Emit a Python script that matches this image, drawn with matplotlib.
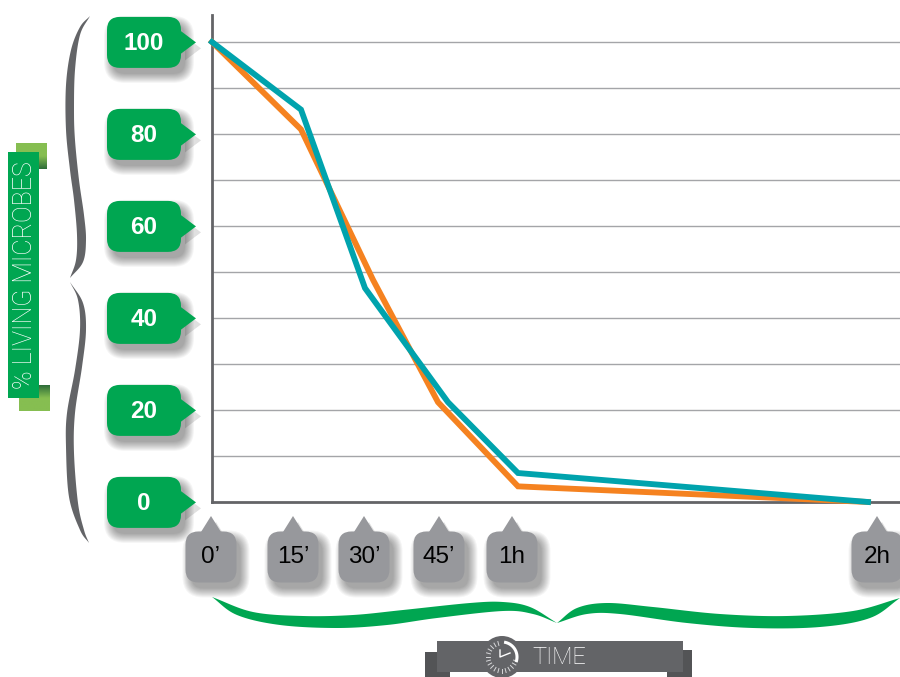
import numpy as np
import matplotlib
matplotlib.use('Agg')
import matplotlib.pyplot as plt
from matplotlib.patches import FancyBboxPatch, Polygon, Rectangle, Circle
from matplotlib.colors import LinearSegmentedColormap

plt.rcParams['font.family'] = ['Liberation Sans', 'DejaVu Sans']

W, H = 900, 677
GREEN = '#00A651'
GREY = '#97989C'
DARK = '#636467'
TEAL = '#00A3AD'
ORANGE = '#F58220'

y_labels = ['100', '80', '60', '40', '20', '0']
y_ticks = [100, 80, 60, 40, 20, 0]
grid_vals = [90, 70, 50, 30, 10]
x_labels = ["0\u2019", "15\u2019", "30\u2019", "45\u2019", "1h", "2h"]
teal_x = [0, 89, 153, 236, 306, 656]
teal_y = [100, 85.3, 46.5, 21.7, 6.3, 0]
orange_x = [0, 89, 161, 226, 306, 656]
orange_y = [100, 81, 48.3, 21.7, 3.4, 0]

fig = plt.figure(figsize=(W / 100, H / 100), dpi=100)
bg = fig.add_axes([0, 0, 1, 1])
bg.set_xlim(0, W)
bg.set_ylim(H, 0)
bg.axis('off')


def smooth(pts, n=14):
    p = np.array(pts, float)
    q = np.vstack([2 * p[0] - p[1], p, 2 * p[-1] - p[-2]])
    out = []
    for i in range(1, len(q) - 2):
        for t in np.linspace(0, 1, n, endpoint=False):
            out.append(0.5 * (2 * q[i] + (q[i + 1] - q[i - 1]) * t
                              + (2 * q[i - 1] - 5 * q[i] + 4 * q[i + 1] - q[i + 2]) * t ** 2
                              + (3 * q[i] - q[i - 1] - 3 * q[i + 1] + q[i + 2]) * t ** 3))
    out.append(p[-1])
    return np.array(out)


def brace(edge_a, edge_b, color):
    a = smooth(edge_a)
    b = smooth(edge_b)
    bg.add_patch(Polygon(np.vstack([a, b[::-1]]), closed=True, fc=color, ec='none', zorder=2))


def bubble(cx, cy, w, h, r, tip, color, z=3):
    def rect(grow, alpha, fc, dx, dy, zz):
        bg.add_patch(FancyBboxPatch((cx - w / 2 + r + dx, cy - h / 2 + r + dy),
                                    w - 2 * r, h - 2 * r,
                                    boxstyle=f'round,pad={r + grow},rounding_size={r + grow}',
                                    fc=fc, ec='none', alpha=alpha, zorder=zz))
    for i in range(10, 0, -1):
        rect(i * 1.0 - 2, 0.04, 'k', 5, 7, z - 1)
    shadow_tip = [(x + 5, y + 6) for x, y in tip]
    bg.add_patch(Polygon(shadow_tip, closed=True, fc='k', ec='none', alpha=0.12, zorder=z - 1))
    rect(0, 1, color, 0, 0, z)
    bg.add_patch(Polygon(tip, closed=True, fc=color, ec='none', zorder=z))


# y bubbles
y_of = lambda v: 502 - 4.6 * v
for lab, v in zip(y_labels, y_ticks):
    cy = y_of(v) + 0.4
    cx = 144
    bubble(cx, cy, 74, 51, 13, [(180, cy - 12), (196, cy), (180, cy + 12)], GREEN)
    bg.text(cx, cy + 1, lab, color='white', fontsize=17.5, fontweight='bold',
            ha='center', va='center', zorder=5)

# x bubbles
label_cx = [211, 293, 364, 439, 512, 877]
for lab, cx in zip(x_labels, label_cx):
    cy = 557
    bubble(cx, cy, 51, 51, 13, [(cx - 10, 532), (cx, 516), (cx + 10, 532)], GREY)
    bg.text(cx, cy, lab, color='black', fontsize=17.5, ha='center', va='center', zorder=5)

# left brace
brace([(90, 16), (80, 27), (71, 50), (66, 85), (66, 130), (70, 170), (74, 200), (77, 235), (76, 260), (70, 278)],
      [(90, 16), (80, 35), (75, 70), (74, 110), (75, 140), (79, 180), (84, 215), (86, 240), (83, 262), (70, 278)], DARK)
brace([(70, 282), (78, 300), (80, 330), (75, 370), (67, 413), (66, 447), (69, 497), (80, 530), (89, 543)],
      [(70, 282), (83, 303), (86, 330), (82, 367), (75, 413), (74, 453), (78, 503), (84, 530), (89, 543)], DARK)

# bottom brace
brace([(212, 597), (253, 612), (303, 616), (353, 615), (403, 610), (470, 603), (503, 602), (530, 607), (557, 623)],
      [(212, 597), (237, 615), (280, 625), (337, 628), (387, 625), (437, 618), (503, 611), (533, 614), (557, 623)], GREEN)
brace([(557, 623), (577, 608), (607, 603), (653, 607), (720, 614), (787, 616), (853, 611), (900, 598)],
      [(557, 623), (587, 614), (620, 614), (687, 623), (753, 628), (820, 627), (870, 618), (900, 598)], GREEN)

# y title ribbon
cmap1 = LinearSegmentedColormap.from_list('g1', ['#86BE51', '#86BE51', '#2F6E3A'])
bg.imshow(np.linspace(0, 1, 32).reshape(-1, 1), extent=(16, 47, 169, 143), cmap=cmap1,
          aspect='auto', zorder=1)
bg.imshow(np.linspace(1, 0, 32).reshape(-1, 1), extent=(19, 50, 411, 385), cmap=cmap1,
          aspect='auto', zorder=1)
bg.set_xlim(0, W)
bg.set_ylim(H, 0)
bg.add_patch(Rectangle((8, 152), 31, 246, fc=GREEN, ec='none', zorder=2))
bg.text(25, 275.5, '% LIVING MICROBES', color='white', fontsize=18, rotation=90,
        ha='center', va='center', zorder=3, family='Roboto', fontweight='light')

# time ribbon
bg.add_patch(Rectangle((425, 652), 25, 25, fc='#535456', ec='none', zorder=1))
bg.add_patch(Rectangle((667, 650), 25, 27, fc='#535456', ec='none', zorder=1))
bg.add_patch(Rectangle((437, 641), 246, 31, fc=DARK, ec='none', zorder=2))
bg.add_patch(Circle((502, 657), 21, fc=DARK, ec='none', zorder=3))
for deg in np.arange(105, 351, 15):
    t = np.radians(deg)
    bg.plot([502 + 12 * np.cos(t), 502 + 16 * np.cos(t)],
            [657 - 12 * np.sin(t), 657 - 16 * np.sin(t)], color='#D8D8DA', lw=0.7, zorder=4)
arc = np.radians(np.linspace(-20, 82, 30))
bg.plot(502 + 15 * np.cos(arc), 657 - 15 * np.sin(arc), color='white', lw=2.2, zorder=4,
        solid_capstyle='butt')
bg.plot([500, 500, 510], [650, 657, 653], color='white', lw=1.0, zorder=4)
bg.text(532, 658, 'TIME', color='white', fontsize=17, ha='left', va='center', zorder=4,
        family='Roboto', fontweight='light')

# chart
ax = fig.add_axes([212 / W, 1 - 502 / H, (W - 212) / W, (502 - 15) / H])
ax.patch.set_alpha(0)
ax.set_xlim(0, W - 212)
ax.set_ylim(0, (502 - 15) / 4.6)
for s in ('top', 'right'):
    ax.spines[s].set_visible(False)
for s in ('left', 'bottom'):
    ax.spines[s].set_color(DARK)
    ax.spines[s].set_linewidth(2)
ax.set_xticks([])
ax.set_yticks([])
for v in y_ticks[:-1] + grid_vals:
    ax.axhline(v, color='#A4A5A8', lw=1, zorder=1)
ax.plot(orange_x, orange_y, color=ORANGE, lw=4.2, zorder=3, solid_joinstyle='miter', clip_on=False)
ax.plot(teal_x, teal_y, color=TEAL, lw=4.2, zorder=4, solid_joinstyle='miter', clip_on=False)

fig.savefig('out.png', dpi=100)
